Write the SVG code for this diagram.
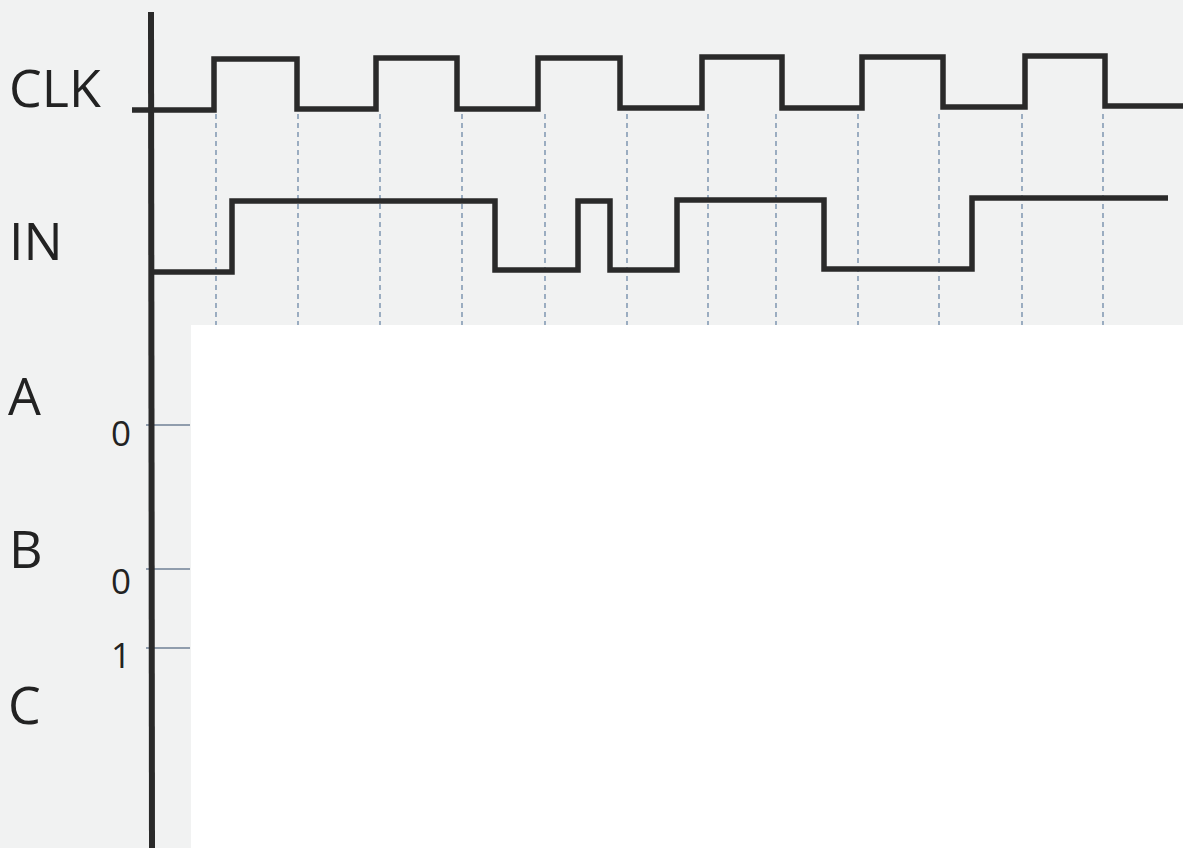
<svg xmlns="http://www.w3.org/2000/svg" width="1183" height="848" viewBox="0 0 1183 848">
  <style>
    .lbl { font-family: "Open Sans", "Liberation Sans", sans-serif; font-size: 52px; fill: #222222; }
    .num { font-family: "Open Sans", "Liberation Sans", sans-serif; font-size: 35px; fill: #222222; }
    .wave { fill: none; stroke: #2a2a2a; stroke-width: 5.5; stroke-linejoin: miter; }
    .dash { stroke: #6d87a6; stroke-width: 1.3; stroke-dasharray: 5 4; }
    .tick { stroke: #6f8196; stroke-width: 1.6; }
  </style>
  <rect x="0" y="0" width="1183" height="848" fill="#f1f2f2"/>
  <rect x="191" y="325" width="992" height="523" fill="#ffffff"/>

  <g id="connectors">
    <g id="clock-guides">
      <line class="dash" x1="216" y1="114" x2="216" y2="325"/>
      <line class="dash" x1="298" y1="114" x2="298" y2="325"/>
      <line class="dash" x1="380" y1="114" x2="380" y2="325"/>
      <line class="dash" x1="462" y1="114" x2="462" y2="325"/>
      <line class="dash" x1="545" y1="114" x2="545" y2="325"/>
      <line class="dash" x1="627" y1="114" x2="627" y2="325"/>
      <line class="dash" x1="708" y1="114" x2="708" y2="325"/>
      <line class="dash" x1="776" y1="114" x2="776" y2="325"/>
      <line class="dash" x1="858" y1="114" x2="858" y2="325"/>
      <line class="dash" x1="939" y1="114" x2="939" y2="325"/>
      <line class="dash" x1="1022" y1="114" x2="1022" y2="325"/>
      <line class="dash" x1="1103" y1="114" x2="1103" y2="325"/>
    </g>
    <g id="ticks">
      <line class="tick" x1="146" y1="425" x2="190" y2="425"/>
      <line class="tick" x1="146" y1="569" x2="190" y2="569"/>
      <line class="tick" x1="146" y1="648" x2="190" y2="648"/>
    </g>
  </g>

  <g id="axis">
    <line x1="151" y1="12" x2="152" y2="848" stroke="#2a2a2a" stroke-width="6"/>
  </g>

  <g id="clk">
    <text class="lbl" x="9" y="107">CLK</text>
    <path class="wave" d="M132,110 H214 V59 H297 V109 H376 V58 H457 V109 H538 V58 H620 V108 H702 V57 H782 V108 H862 V57 H943 V107 H1025 V56 H1105 V106 H1183"/>
  </g>

  <g id="in">
    <text class="lbl" x="9" y="260">IN</text>
    <path class="wave" d="M152,272 H232 V201 H495 V270 H578 V201 H610 V270 H677 V200 H824 V269 H972 V198 H1168"/>
  </g>

  <g id="a">
    <text class="lbl" x="8" y="415">A</text>
    <text class="num" x="111" y="446">0</text>
  </g>

  <g id="b">
    <text class="lbl" x="9" y="568">B</text>
    <text class="num" x="111" y="594">0</text>
  </g>

  <g id="c">
    <text class="num" x="111" y="668">1</text>
    <text class="lbl" x="8" y="724">C</text>
  </g>
</svg>
